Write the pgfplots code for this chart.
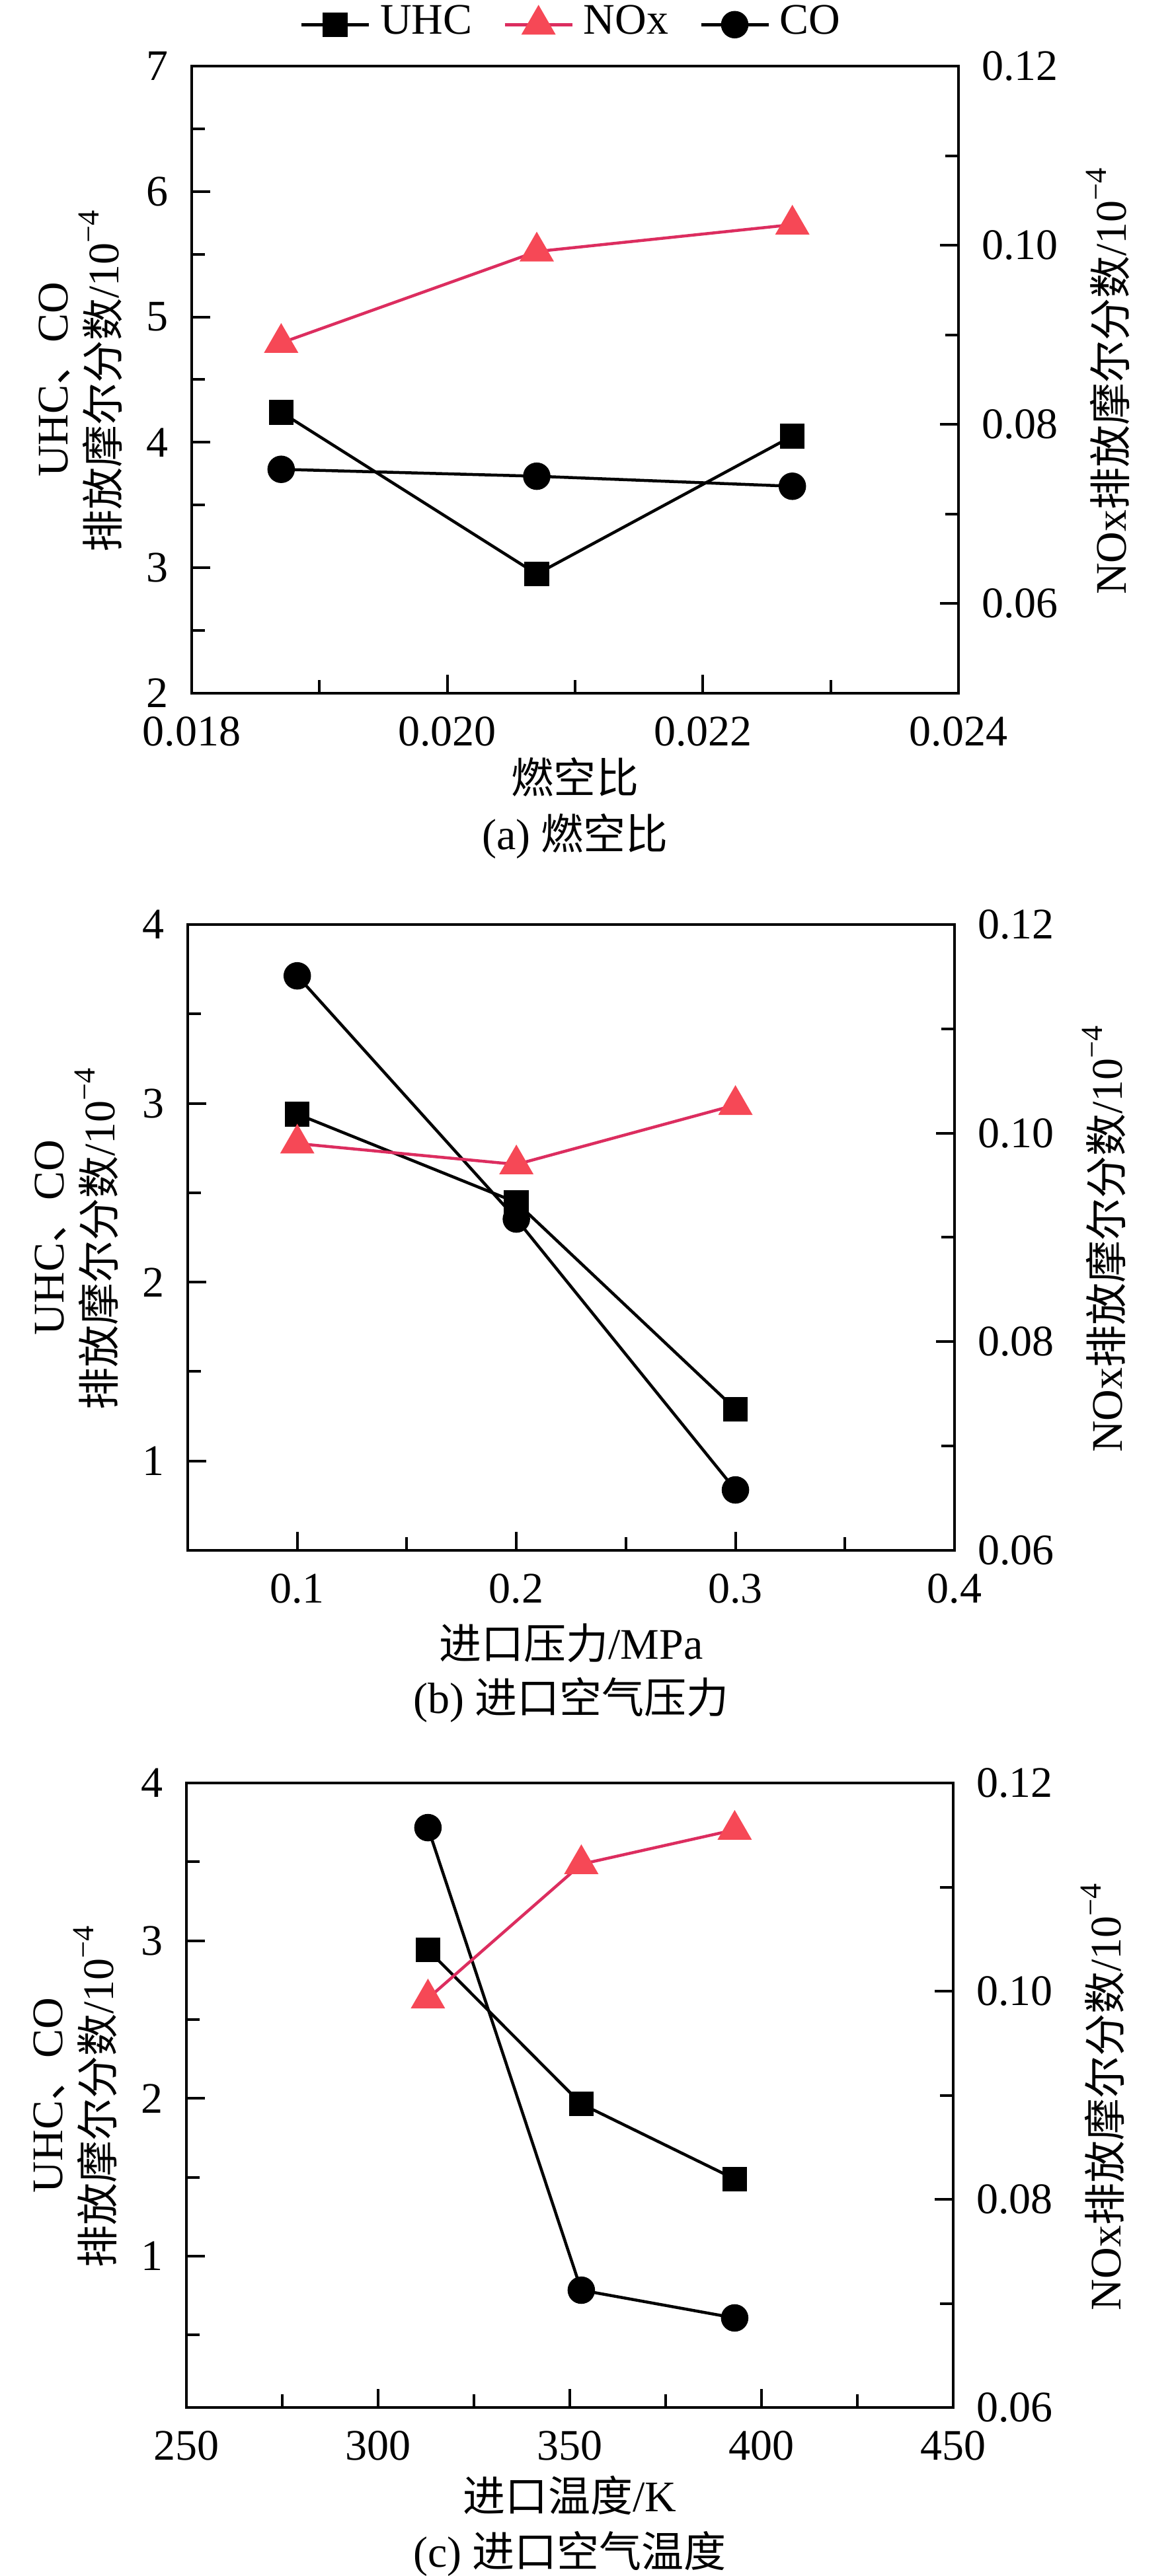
\documentclass[border=0pt]{standalone}
\usepackage{fontspec}
\setmainfont{Liberation Serif}
\newfontfamily\cjk[Scale=0.97]{Noto Sans CJK SC}
\usepackage{pgfplots}
\pgfplotsset{compat=1.18}
\definecolor{noxline}{RGB}{220,45,95}
\definecolor{noxfill}{RGB}{246,72,86}
\tikzset{capt/.style={font=\fontsize{6.6pt}{8pt}\selectfont}}
\pgfplotsset{
  base/.style={scale only axis, width=116pt, tick align=inside,
    scaled ticks=false,
    major tick length=2.8pt, minor tick length=2pt,
    every tick/.append style={line width=0.4pt, black},
    axis line style={line width=0.45pt},
    tick label style={font=\fontsize{6.6pt}{8pt}\selectfont},
    label style={font=\fontsize{6.6pt}{7.7pt}\selectfont},
    anchor=south west},
  leftax/.style={base, tick pos=left, clip=false,
    ylabel style={at={(axis description cs:-0.145,0.5)},anchor=center,align=center},
    xlabel style={anchor=center},
    ylabel={UHC{\cjk 、}CO\\{\cjk 排放摩尔分数}/10\textsuperscript{−4}}},
  rightax/.style={base, axis x line=none, axis y line*=right, ytick pos=right, yticklabel pos=right,
    ylabel style={at={(axis description cs:1.195,0.5)},anchor=center},
    ylabel={NOx{\cjk 排放摩尔分数}/10\textsuperscript{−4}},
    ytick={0.06,0.08,0.10,0.12}, yticklabels={0.06,0.08,0.10,0.12},
    minor ytick={0.07,0.09,0.11}, ymax=0.12},
  uhc/.style={black, line width=0.45pt, mark=square*, mark size=1.65pt},
  co/.style={black, line width=0.45pt, mark=*, mark size=1.85pt},
  nox/.style={noxline, line width=0.45pt, mark=triangle*, mark size=2.55pt, mark options={fill=noxfill, draw=noxfill}},
}
\begin{document}
\begin{tikzpicture}
\useasboundingbox (0,0) rectangle (177.2pt,-389.8pt);
% ---------- (a)
\begin{axis}[leftax, at={(29pt,-104.9pt)}, height=94.9pt,
  xmin=0.018, xmax=0.024, ymin=2, ymax=7,
  xtick={0.018,0.020,0.022,0.024}, xticklabels={0.018,0.020,0.022,0.024},
  minor xtick={0.019,0.021,0.023},
  ytick={2,3,4,5,6,7}, yticklabels={2,3,4,5,6,7},
  minor ytick={2.5,3.5,4.5,5.5,6.5},
  xlabel={{\cjk 燃空比}},
  xlabel style={at={(axis description cs:0.5,-0.1339)}}]
\addplot[uhc] coordinates {(0.0187,4.24)(0.0207,2.95)(0.0227,4.05)};
\addplot[co] coordinates {(0.0187,3.785)(0.0207,3.73)(0.0227,3.65)};
\node[capt] at (axis description cs:0.5,-0.2276) {(a) {\cjk 燃空比}};
\end{axis}
\begin{axis}[rightax, at={(29pt,-104.9pt)}, height=94.9pt,
  xmin=0.018, xmax=0.024, ymin=0.05,
  legend columns=3,
  legend style={draw=none, fill=none, at={(0.5,1.066)}, anchor=center,
    font=\fontsize{6.6pt}{8pt}\selectfont, nodes={inner sep=1.5pt},
    /tikz/every even column/.append style={column sep=3.2pt}},
  legend image code/.code={\draw[mark repeat=2,mark phase=2,#1] plot coordinates {(0pt,0pt)(5.1pt,0pt)(10.2pt,0pt)};}]
\addlegendimage{uhc}\addlegendentry{UHC}
\addplot[nox] coordinates {(0.0187,0.0891)(0.0207,0.0993)(0.0227,0.1023)};
\addlegendentry{NOx}
\addlegendimage{co}\addlegendentry{CO}
\end{axis}
% ---------- (b)
\begin{axis}[leftax, at={(28.4pt,-234.6pt)}, height=94.7pt,
  xmin=0.05, xmax=0.4, ymin=0.5, ymax=4,
  xtick={0.1,0.2,0.3,0.4}, xticklabels={0.1,0.2,0.3,0.4},
  minor xtick={0.15,0.25,0.35},
  ytick={1,2,3,4}, yticklabels={1,2,3,4},
  minor ytick={1.5,2.5,3.5},
  xlabel={{\cjk 进口压力}/MPa},
  xlabel style={at={(axis description cs:0.5,-0.1478)}}]
\addplot[uhc] coordinates {(0.1,2.94)(0.2,2.446)(0.3,1.29)};
\addplot[co] coordinates {(0.1,3.713)(0.2,2.353)(0.3,0.838)};
\node[capt] at (axis description cs:0.5,-0.2387) {(b) {\cjk 进口空气压力}};
\end{axis}
\begin{axis}[rightax, at={(28.4pt,-234.6pt)}, height=94.7pt,
  xmin=0.05, xmax=0.4, ymin=0.06]
\addplot[nox] coordinates {(0.1,0.0990)(0.2,0.0970)(0.3,0.1027)};
\end{axis}
% ---------- (c)
\begin{axis}[leftax, at={(28.2pt,-364.3pt)}, height=94.5pt,
  xmin=250, xmax=450, ymin=0.04, ymax=4,
  xtick={250,300,350,400,450}, xticklabels={250,300,350,400,450},
  minor xtick={275,325,375,425},
  ytick={1,2,3,4}, yticklabels={1,2,3,4},
  minor ytick={0.5,1.5,2.5,3.5},
  xlabel={{\cjk 进口温度}/K},
  xlabel style={at={(axis description cs:0.5,-0.1407)}}]
\addplot[uhc] coordinates {(313,2.942)(353,1.965)(393,1.489)};
\addplot[co] coordinates {(313,3.717)(353,0.784)(393,0.608)};
\node[capt] at (axis description cs:0.5,-0.2339) {(c) {\cjk 进口空气温度}};
\end{axis}
\begin{axis}[rightax, at={(28.2pt,-364.3pt)}, height=94.5pt,
  xmin=250, xmax=450, ymin=0.06]
\addplot[nox] coordinates {(313,0.0993)(353,0.1122)(393,0.1155)};
\end{axis}
\end{tikzpicture}
\end{document}
